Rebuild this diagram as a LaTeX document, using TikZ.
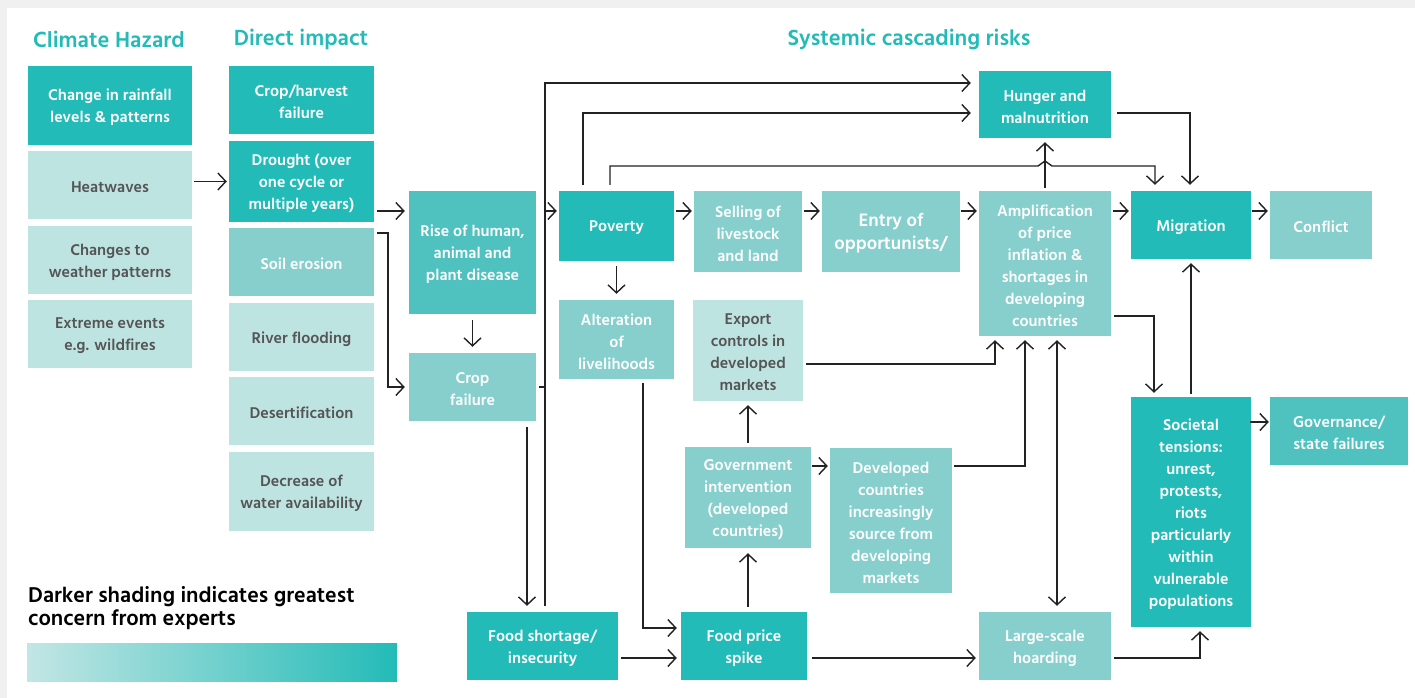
\documentclass[tikz,border=0pt]{standalone}
\usepackage{fontspec}
\setmainfont{Hind Madurai}
\usetikzlibrary{arrows.meta,calc}
\definecolor{cDark}{HTML}{23BBB7}
\definecolor{cMedD}{HTML}{4FC1BF}
\definecolor{cMid}{HTML}{86CFCC}
\definecolor{cLight}{HTML}{BEE4E2}
\definecolor{cLegL}{HTML}{C2E6E4}
\definecolor{cLegM}{HTML}{92D5D2}
\definecolor{cTxtG}{HTML}{555555}
\definecolor{cLine}{HTML}{222222}
\definecolor{cBg}{HTML}{F0F0F0}
% #1 fill style, #2-#5 x1 y1 x2 y2, #6 name, #7 text
\newcommand\boxat[7]{%
  \node[#1, minimum width={(#4-#2)*1pt}, minimum height={(#5-#3)*1pt}] (#6) at ({(#2+#4)/2},{(#3+#5)/2}) {};
  \node[#1, fill=none, minimum width=0pt, minimum height=0pt] (#6-t) at ([yshift=-2pt]#6.center) {#7};}
\begin{document}
\begin{tikzpicture}[x=1pt,y=-1pt,
  box/.style={inner sep=0pt, align=center, font=\fontsize{16}{22}\selectfont\bfseries, text=white},
  dark/.style={box, fill=cDark},
  medd/.style={box, fill=cMedD},
  mid/.style={box, fill=cMid},
  light/.style={box, fill=cLight, text=cTxtG},
  tip/.tip={Straight Barb[length=8pt,width=17pt]},
  arr/.style={draw=cLine, line width=1.4pt, -tip},
  arrb/.style={draw=cLine, line width=1.4pt, tip-tip},
  ln/.style={draw=cLine, line width=1.4pt},
  ttl/.style={text=cDark, inner sep=0pt, font=\fontsize{22.5}{26}\selectfont\bfseries},
  leg/.style={text=black, inner sep=0pt, anchor=base west, font=\fontsize{22}{25}\selectfont\bfseries}
]
\useasboundingbox (0,0) rectangle (1415,698);
\fill[cBg] (0,0) rectangle (1415,698);
\fill[white] (7,8) rectangle (1415,698);

% titles
\node[ttl] (t1) at (109,39) {Climate Hazard};
\node[ttl] (t2) at (301,39) {Direct impact};
\node[ttl] (t3) at (909,39) {Systemic cascading risks};

% column 1
\boxat{dark}{28}{66}{192}{145}{rain}{Change in rainfall\\levels \& patterns}
\boxat{light}{28}{151}{192}{219}{heat}{Heatwaves}
\boxat{light}{28}{226}{192}{294}{weather}{Changes to\\weather patterns}
\boxat{light}{28}{300}{192}{368}{extreme}{Extreme events\\e.g. wildfires}

% column 2
\boxat{dark}{229}{66}{374}{134}{harvest}{Crop/harvest\\failure}
\boxat{dark}{229}{141}{374}{222}{drought}{Drought (over\\one cycle or\\multiple years)}
\boxat{mid}{229}{228}{374}{296}{soil}{Soil erosion}
\boxat{light}{229}{303}{374}{371}{river}{River flooding}
\boxat{light}{229}{377}{374}{445}{desert}{Desertification}
\boxat{light}{229}{452}{374}{531}{water}{Decrease of\\water availability}

% systemic
\boxat{medd}{409}{191}{536}{314}{rise}{Rise of human,\\animal and\\plant disease}
\boxat{mid}{409}{353}{536}{421}{cropf}{Crop\\failure}
\boxat{dark}{467}{612}{618}{680}{foodsh}{Food shortage/\\insecurity}
\boxat{dark}{559}{191}{674}{261}{poverty}{Poverty}
\boxat{mid}{559}{300}{674}{379}{alter}{Alteration\\of\\livelihoods}
\boxat{mid}{694}{191}{802}{272}{selling}{Selling of\\livestock\\and land}
\boxat{light}{693}{300}{803}{401}{export}{Export\\controls in\\developed\\markets}
\boxat{mid}{685}{447}{811}{548}{gov}{Government\\intervention\\(developed\\countries)}
\boxat{dark}{681}{612}{807}{680}{foodpr}{Food price\\spike}
\boxat{mid,font=\fontsize{18.5}{23}\selectfont\bfseries}{822}{191}{960}{272}{entry}{Entry of\\opportunists/}
\boxat{mid}{830}{448}{952}{593}{devd}{Developed\\countries\\increasingly\\source from\\developing\\markets}
\boxat{dark}{979}{71}{1111}{138}{hunger}{Hunger and\\malnutrition}
\boxat{mid}{979}{191}{1111}{336}{ampl}{Amplification\\of price\\inflation \&\\shortages in\\developing\\countries}
\boxat{mid}{979}{612}{1111}{680}{hoard}{Large-scale\\hoarding}
\boxat{dark}{1131}{191}{1251}{259}{migr}{Migration}
\boxat{mid}{1270}{191}{1372}{259}{conflict}{Conflict}
\boxat{dark}{1131}{397}{1251}{627}{soc}{Societal\\tensions:\\unrest,\\protests,\\riots\\particularly\\within\\vulnerable\\populations}
\boxat{medd}{1270}{397}{1408}{465}{govf}{Governance/\\state failures}

% legend
\node[leg] (leg1) at (28,602) {Darker shading indicates greatest};
\node[leg] (leg2) at (28,625) {concern from experts};
\node[inner sep=0pt, minimum width=370pt, minimum height=38pt, left color=cLegL, middle color=cLegM, right color=cDark, shading angle=90] (bar) at (212,662) {};

% connectors
\draw[arr] ([xshift=2pt]heat.east |- drought.west) -- ([xshift=-2pt]drought.west);
\draw[arr] ([xshift=3pt]drought.east |- 0,211) -- ([xshift=-4pt]rise.west |- 0,211);
\draw[arr] ([xshift=3pt]soil.east |- 0,233) -| (388,387) -- ([xshift=-4pt]cropf.west);
\draw[arr] ([yshift=-6pt]rise.south) -- ([yshift=6pt]cropf.north);
\draw[arr] ([yshift=-6pt]cropf.south -| 527,0) -- ([yshift=6pt]foodsh.north -| 527,0);
\draw[arr] ([yshift=6pt]foodsh.north -| 545,0) -- (545,83) -- ([xshift=-8pt]hunger.west |- 0,83);
\coordinate (jp) at (545,211);
\draw[arr] (jp) -- ([xshift=-2pt]poverty.west |- jp);
\draw[ln] ([xshift=3pt]cropf.east) -- (cropf.east -| jp);
\draw[arr] ([yshift=6pt]poverty.north -| 583,0) -- (583,113) -- ([xshift=-8pt]hunger.west |- 0,113);
\draw[arr] ([yshift=6pt]poverty.north -| 610,0) -- (610,166) -- (1038,166) -- (1045,161) -- (1052,166) -| ([yshift=6pt]migr.north -| 1155,0);
\draw[arr] ([yshift=3pt]ampl.north -| hunger.south) -- ([yshift=-4pt]hunger.south);
\draw[arr] ([xshift=6pt]hunger.east |- 0,113) -| ([yshift=6pt]migr.north -| 1190,0);
\draw[arr] ([xshift=2pt]poverty.east |- 0,211) -- ([xshift=-2pt]selling.west |- 0,211);
\draw[arr] ([xshift=2pt]selling.east |- 0,211) -- ([xshift=-2pt]entry.west |- 0,211);
\draw[arr] ([xshift=1pt]entry.east |- 0,211) -- ([xshift=-2pt]ampl.west |- 0,211);
\draw[arr] ([xshift=2pt]ampl.east |- 0,211) -- ([xshift=-2pt]migr.west |- 0,211);
\draw[arr] ([xshift=1pt]migr.east |- 0,211) -- ([xshift=-2pt]conflict.west |- 0,211);
\draw[arr] ([yshift=-5pt]poverty.south -| alter.north) -- ([yshift=6pt]alter.north);
\draw[arr] ([xshift=3pt]ampl.east |- 0,316) -| ([yshift=4pt]soc.north -| 1154,0);
\draw[arr] ([yshift=3pt]soc.north) -- ([yshift=-4pt]migr.south);
\draw[arr] ([xshift=-1pt]soc.east |- 0,422) -- ([xshift=-1pt]govf.west |- 0,422);
\draw[arr] ([xshift=3pt]hoard.east |- 0,658) -| ([yshift=-4pt]soc.south -| 1200,0);
\draw[arr] ([xshift=3pt]export.east |- 0,364) -| ([yshift=-4pt]ampl.south -| 995,0);
\draw[arr] ([xshift=2pt]devd.east |- 0,466) -| ([yshift=-4pt]ampl.south -| 1025,0);
\draw[arrb] ([yshift=-4pt]ampl.south -| 1057,0) -- ([yshift=6pt]hoard.north -| 1057,0);
\draw[arr] ([yshift=-4pt]alter.south -| 643,0) |- ([xshift=-4pt]foodpr.west |- 0,628);
\draw[arr] ([xshift=3pt]foodsh.east |- 0,658) -- ([xshift=-4pt]foodpr.west |- 0,658);
\draw[arr] ([xshift=5pt]foodpr.east |- 0,658) -- ([xshift=-3pt]hoard.west |- 0,658);
\draw[arr] ([yshift=5pt]foodpr.north -| 748,0) -- ([yshift=-5pt]gov.south -| 748,0);
\draw[arr] ([yshift=4pt]gov.north -| 748,0) -- ([yshift=-4pt]export.south -| 748,0);
\draw[arr] ([xshift=1pt]gov.east |- 0,466) -- ([xshift=-2pt]devd.west |- 0,466);
\end{tikzpicture}
\end{document}
